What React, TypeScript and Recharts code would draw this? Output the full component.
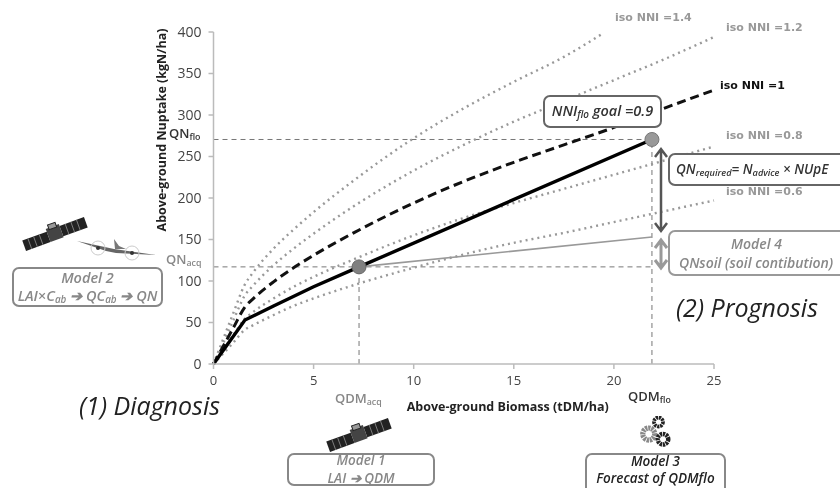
import type { CSSProperties, ReactNode } from 'react';
import { ComposedChart, Line, XAxis, YAxis, ReferenceLine, ReferenceDot } from 'recharts';

const biomass = [0, 0.5, 1, 1.55, 2, 3, 4, 5, 7, 10, 12.5, 15, 17.5, 20, 22.5, 25];
const biomassNni14 = [0, 0.5, 1, 1.55, 2, 3, 4, 5, 7, 10, 12.5, 15, 17.5, 19.5];
const nni14 = [0, 31, 62, 95, 111, 139, 162, 183, 221, 272, 308, 340, 370, 399];
const nni12 = [0, 26, 53, 82, 95, 119, 139, 157, 190, 233, 264, 292, 317, 342, 367, 394];
const nni10 = [0, 22, 44, 68, 79, 99, 116, 131, 158, 194, 220, 243, 264, 285, 308, 330];
const nni08 = [0, 18, 35, 54, 63, 79, 93, 105, 126, 155, 176, 194, 211, 228, 245, 262];
const nni06 = [0, 13, 26, 41, 47, 59, 70, 79, 95, 116, 132, 146, 158, 171, 184, 197];

const trajectoryX = [0, 1.57, 3, 5, 7.27, 21.9];
const trajectoryY = [0, 53, 70, 93, 117, 270.5];
const soilX = [7.27, 21.9];
const soilY = [117, 153];

const xTicks = [0, 5, 10, 15, 20, 25];
const yTicks = [0, 50, 100, 150, 200, 250, 300, 350, 400];

const qdmAcq = 7.27;
const qdmFlo = 21.9;
const qnAcq = 117;
const qnFlo = 270.5;

const toPoints = (xs: number[], ys: number[]) => xs.map((x, i) => ({ x, y: ys[i] }));

const sans = '"Open Sans", sans-serif';

function At({ x, y, style, children }: { x: number; y: number; style?: CSSProperties; children: ReactNode }) {
  return (
    <div style={{ position: 'absolute', left: x, top: y, whiteSpace: 'nowrap', fontFamily: sans, ...style }}>
      {children}
    </div>
  );
}

function Box({ x, y, w, h, color = '#777', children, style }: { x: number; y: number; w: number; h: number; color?: string; children: ReactNode; style?: CSSProperties }) {
  return (
    <div
      style={{
        position: 'absolute', left: x, top: y, width: w, height: h, boxSizing: 'border-box',
        border: `2px solid ${color}`, borderRadius: 7, background: '#fff', fontFamily: sans,
        fontStyle: 'italic', fontWeight: 600, textAlign: 'center', whiteSpace: 'nowrap', ...style,
      }}
    >
      {children}
    </div>
  );
}

const isoLabel = (color: string): CSSProperties => ({
  fontFamily: '"DejaVu Sans", sans-serif', fontWeight: 700, fontSize: 11, color,
});

const sub: CSSProperties = { fontSize: '0.68em', verticalAlign: '-0.25em', lineHeight: 0 };

function Satellite({ x, y, scale = 1 }: { x: number; y: number; scale?: number }) {
  return (
    <svg style={{ position: 'absolute', left: x, top: y }} width={68 * scale} height={36 * scale} viewBox="0 0 68 36">
      <g transform="rotate(-20 34 18)">
        <rect x="1" y="13" width="26" height="11" fill="#222" />
        <rect x="41" y="12" width="26" height="11" fill="#222" />
        <path d="M7 13v11M13 13v11M19 13v11M47 12v11M53 12v11M59 12v11" stroke="#888" strokeWidth="0.8" />
        <rect x="27" y="10" width="14" height="14" fill="#444" />
        <rect x="30" y="7" width="8" height="5" fill="#999" stroke="#222" />
      </g>
    </svg>
  );
}

function Plane({ x, y }: { x: number; y: number }) {
  return (
    <svg style={{ position: 'absolute', left: x, top: y }} width={82} height={30} viewBox="0 0 82 30">
      <path d="M1 7 L38 15 L80 21 L40 19 L30 17 Z" fill="#666" />
      <path d="M38 5 L39 15 L50 15 L43 12 Z" fill="#777" />
      <circle cx="22" cy="14" r="7" fill="none" stroke="#ccc" />
      <circle cx="56" cy="19" r="7" fill="none" stroke="#ccc" />
      <circle cx="22" cy="14" r="2" fill="#333" />
      <circle cx="56" cy="19" r="2" fill="#333" />
    </svg>
  );
}

function Gears({ x, y }: { x: number; y: number }) {
  return (
    <svg style={{ position: 'absolute', left: x, top: y }} width={35} height={33} viewBox="0 0 46 44">
      <circle cx="27" cy="8" r="6" fill="none" stroke="#222" strokeWidth="5" strokeDasharray="3 1" />
      <circle cx="14" cy="24" r="8" fill="none" stroke="#888" strokeWidth="7" strokeDasharray="3 1" />
      <circle cx="33" cy="31" r="7" fill="none" stroke="#222" strokeWidth="6" strokeDasharray="3 1" />
    </svg>
  );
}

function DoubleArrow({ x, y1, y2, color, width }: { x: number; y1: number; y2: number; color: string; width: number }) {
  const d = `M${x} ${y1}V${y2}M${x - 6} ${y1 + 8}L${x} ${y1}L${x + 6} ${y1 + 8}M${x - 6} ${y2 - 8}L${x} ${y2}L${x + 6} ${y2 - 8}`;
  return <path d={d} stroke={color} strokeWidth={width} fill="none" />;
}

export default function App() {
  return (
    <div style={{ position: 'absolute', left: 0, top: 0, width: 840, height: 488, overflow: 'hidden', background: '#fff', filter: 'blur(0.6px)' }}>
      <ComposedChart width={840} height={488} margin={{ top: 32, right: 126, bottom: 94, left: 153.5 }}>
        <XAxis
          type="number"
          dataKey="x"
          domain={[0, 25]}
          ticks={xTicks}
          height={30}
          stroke="#bbb"
          strokeWidth={1.5}
          tick={{ fill: '#444', fontSize: 13, fontFamily: sans }}
          tickSize={5}
          tickMargin={7}
          allowDuplicatedCategory={false}
          label={{ value: 'Above-ground Biomass (tDM/ha)', position: 'insideBottom', offset: -17, dx: 44, style: { fontFamily: sans, fontWeight: 700, fontSize: 12.5, fill: '#222' } }}
        />
        <YAxis
          type="number"
          domain={[0, 400]}
          ticks={yTicks}
          width={60}
          stroke="#bbb"
          strokeWidth={1.5}
          tick={{ fill: '#444', fontSize: 14, fontFamily: sans }}
          tickSize={5}
          tickMargin={7}
          label={{ value: 'Above-ground Nuptake (kgN/ha)', angle: -90, position: 'insideLeft', offset: 8, dy: -68, style: { textAnchor: 'middle', fontFamily: sans, fontWeight: 700, fontSize: 12.5, fill: '#222' } }}
        />
        <ReferenceLine segment={[{ x: 0, y: qnFlo }, { x: qdmFlo, y: qnFlo }]} stroke="#777" strokeDasharray="5 4" />
        <ReferenceLine segment={[{ x: 0, y: qnAcq }, { x: qdmFlo, y: qnAcq }]} stroke="#777" strokeDasharray="5 4" />
        <ReferenceLine segment={[{ x: qdmAcq, y: 0 }, { x: qdmAcq, y: qnAcq }]} stroke="#777" strokeDasharray="5 4" />
        <ReferenceLine segment={[{ x: qdmFlo, y: 0 }, { x: qdmFlo, y: qnFlo }]} stroke="#777" strokeDasharray="5 4" />
        <Line data={toPoints(biomassNni14, nni14)} dataKey="y" type="monotone" stroke="#999" strokeWidth={2.4} strokeDasharray="2 4" dot={false} isAnimationActive={false} />
        <Line data={toPoints(biomass, nni12)} dataKey="y" type="monotone" stroke="#999" strokeWidth={2.4} strokeDasharray="2 4" dot={false} isAnimationActive={false} />
        <Line data={toPoints(biomass, nni08)} dataKey="y" type="monotone" stroke="#999" strokeWidth={2.4} strokeDasharray="2 4" dot={false} isAnimationActive={false} />
        <Line data={toPoints(biomass, nni06)} dataKey="y" type="monotone" stroke="#999" strokeWidth={2.4} strokeDasharray="2 4" dot={false} isAnimationActive={false} />
        <Line data={toPoints(biomass, nni10)} dataKey="y" type="monotone" stroke="#111" strokeWidth={3} strokeDasharray="9 5" dot={false} isAnimationActive={false} />
        <Line data={toPoints(soilX, soilY)} dataKey="y" type="linear" stroke="#999" strokeWidth={1.6} dot={false} isAnimationActive={false} />
        <Line data={toPoints(trajectoryX, trajectoryY)} dataKey="y" type="linear" stroke="#000" strokeWidth={3.4} dot={false} isAnimationActive={false} />
        <ReferenceDot x={qdmAcq} y={qnAcq} r={7} fill="#808080" stroke="#666" strokeWidth={1} />
        <ReferenceDot x={qdmFlo} y={qnFlo} r={7} fill="#999" stroke="#777" strokeWidth={1} />
      </ComposedChart>

      <At x={615} y={11} style={isoLabel('#999')}>iso NNI =1.4</At>
      <At x={726} y={21} style={isoLabel('#999')}>iso NNI =1.2</At>
      <At x={720} y={79} style={isoLabel('#111')}>iso NNI =1</At>
      <At x={726} y={129} style={isoLabel('#999')}>iso NNI =0.8</At>
      <At x={726} y={185} style={isoLabel('#999')}>iso NNI =0.6</At>

      <At x={169} y={124} style={{ fontSize: 13, fontWeight: 600, color: '#333' }}>QN<span style={sub}>flo</span></At>
      <At x={166} y={250} style={{ fontSize: 13, fontWeight: 600, color: '#888' }}>QN<span style={sub}>acq</span></At>
      <At x={335} y={389} style={{ fontSize: 13, fontWeight: 600, color: '#888' }}>QDM<span style={sub}>acq</span></At>
      <At x={628} y={387} style={{ fontSize: 13, fontWeight: 600, color: '#333' }}>QDM<span style={sub}>flo</span></At>

      <Box x={543} y={95} w={119} h={33} color="#666" style={{ fontSize: 14.5, color: '#333', lineHeight: '28px' }}>
        NNI<span style={sub}>flo</span> goal =0.9
      </Box>
      <Box x={668} y={153} w={180} h={33} color="#666" style={{ fontSize: 13.5, color: '#333', lineHeight: '28px', textAlign: 'left', paddingLeft: 6 }}>
        QN<span style={sub}>required</span>= N<span style={sub}>advice</span> × NUpE
      </Box>
      <Box x={668} y={230} w={180} h={46} color="#999" style={{ fontSize: 14, color: '#888', lineHeight: '19px', textAlign: 'left', paddingLeft: 9, paddingTop: 2 }}>
        <div style={{ paddingLeft: 52 }}>Model 4</div>
        <div>QNsoil (soil contibution)</div>
      </Box>
      <Box x={12} y={267} w={151} h={40} color="#888" style={{ fontSize: 14.5, color: '#888', lineHeight: '18px' }}>
        <div>Model 2</div>
        <div>LAI×C<span style={sub}>ab</span> ➔ QC<span style={sub}>ab</span> ➔ QN</div>
      </Box>
      <Box x={287} y={453} w={148} h={33} color="#888" style={{ fontSize: 13.5, color: '#888', lineHeight: '18px' }}>
        <div style={{ marginTop: -4 }}>Model 1</div>
        <div>LAI ➔ QDM</div>
      </Box>
      <Box x={585} y={453} w={141} h={42} color="#888" style={{ fontSize: 13.5, color: '#222', lineHeight: '17px' }}>
        <div style={{ marginTop: -2 }}>Model 3</div>
        <div>Forecast of QDMflo</div>
      </Box>

      <At x={79} y={394} style={{ fontSize: 25, lineHeight: '22px', fontStyle: 'italic', color: '#222' }}>(1) Diagnosis</At>
      <At x={676} y={290} style={{ fontSize: 25, fontStyle: 'italic', color: '#222' }}>(2) Prognosis</At>

      <Satellite x={21} y={216} />
      <Plane x={76} y={234} />
      <Satellite x={325} y={417} />
      <Gears x={638} y={416} />

      <svg style={{ position: 'absolute', left: 0, top: 0, pointerEvents: 'none' }} width={840} height={488}>
        <DoubleArrow x={661} y1={149} y2={231} color="#555" width={2.5} />
        <DoubleArrow x={661} y1={240} y2={268} color="#999" width={3} />
      </svg>
    </div>
  );
}
